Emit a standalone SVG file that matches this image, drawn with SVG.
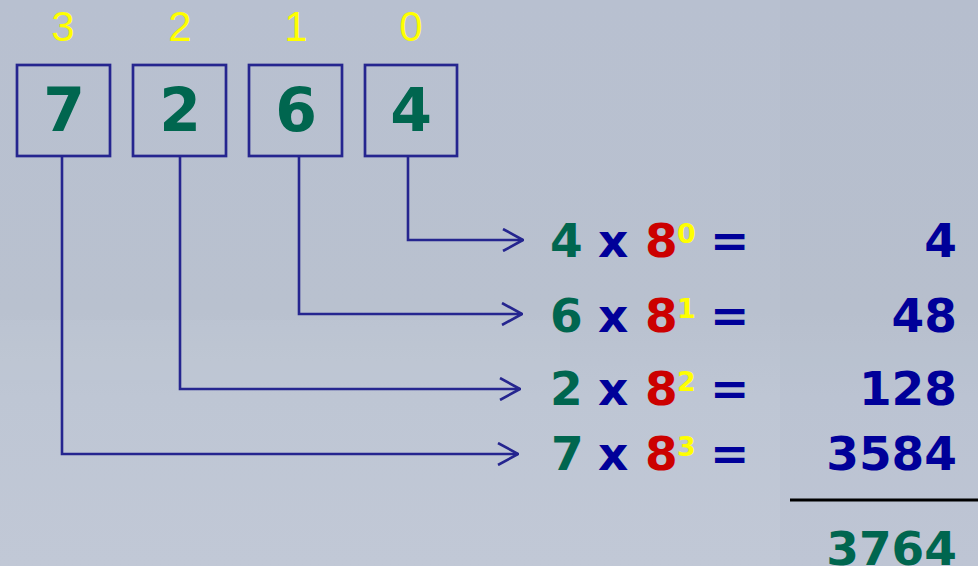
<svg xmlns="http://www.w3.org/2000/svg" width="978" height="566" viewBox="0 0 978 566">
  <defs>
    <linearGradient id="bg" x1="0" y1="0" x2="0" y2="1">
      <stop offset="0" stop-color="#b8c0d0"/>
      <stop offset="0.55" stop-color="#b9c1cf"/>
      <stop offset="0.7" stop-color="#bec6d4"/>
      <stop offset="1" stop-color="#c1c8d6"/>
    </linearGradient>
    <marker id="arrow" viewBox="0 0 22 24" refX="21" refY="12" markerWidth="22" markerHeight="24" markerUnits="userSpaceOnUse" orient="auto">
      <path d="M1,1 L21,12 L1,23" fill="none" stroke="#25258f" stroke-width="2.6"/>
    </marker>
  </defs>
  <style>
    .box { fill: none; stroke: #25258f; stroke-width: 2.7; }
    .digit { font-family: "DejaVu Sans", Verdana, sans-serif; font-weight: bold; font-size: 60px; fill: #00664f; text-anchor: middle; }
    .idx { font-family: "Liberation Sans", Arial, sans-serif; font-size: 42px; fill: #ffff00; text-anchor: middle; }
    .conn { fill: none; stroke: #25258f; stroke-width: 2.6; marker-end: url(#arrow); }
    .eq { font-family: "DejaVu Sans", Verdana, sans-serif; font-weight: bold; font-size: 47px; }
    .val { font-family: "DejaVu Sans", Verdana, sans-serif; font-weight: bold; font-size: 47px; fill: #000099; text-anchor: end; }
    .g { fill: #00664f; }
    .b { fill: #000099; }
    .r { fill: #cc0000; }
    .y { fill: #ffff00; font-size: 27px; }
    .sum { fill: #00664f; }
  </style>

  <rect x="0" y="0" width="978" height="566" fill="url(#bg)"/>
  <!-- faint background texture -->
  <rect x="780" y="0" width="198" height="566" fill="#aab2c0" opacity="0.1"/>
  <rect x="0" y="320" width="560" height="60" fill="#c4cbd8" opacity="0.25"/>

  <!-- digit positions -->
  <g id="positions">
    <text class="idx" x="63" y="41">3</text>
    <text class="idx" x="180" y="41">2</text>
    <text class="idx" x="296" y="41">1</text>
    <text class="idx" x="411" y="41">0</text>
  </g>

  <!-- octal digit boxes -->
  <g id="digit-7">
    <rect class="box" x="17" y="65" width="93" height="91"/>
    <text class="digit" x="64" y="131">7</text>
  </g>
  <g id="digit-2">
    <rect class="box" x="133" y="65" width="93" height="91"/>
    <text class="digit" x="180" y="131">2</text>
  </g>
  <g id="digit-6">
    <rect class="box" x="249" y="65" width="93" height="91"/>
    <text class="digit" x="296" y="131">6</text>
  </g>
  <g id="digit-4">
    <rect class="box" x="365" y="65" width="92" height="91"/>
    <text class="digit" x="411" y="131">4</text>
  </g>

  <!-- connectors -->
  <g id="connectors">
    <path class="conn" d="M408,156 V240 H523"/>
    <path class="conn" d="M299,156 V314 H522"/>
    <path class="conn" d="M180,156 V389 H520"/>
    <path class="conn" d="M62,156 V454 H518"/>
  </g>

  <!-- terms -->
  <g id="term-0">
    <text class="eq"><tspan class="g" x="550" y="257">4</tspan><tspan class="b" x="598" y="257">x</tspan><tspan class="r" x="645" y="257">8</tspan><tspan class="y" x="677" y="243">0</tspan><tspan class="b" x="710" y="257">=</tspan></text>
    <text class="val" x="957" y="257">4</text>
  </g>
  <g id="term-1">
    <text class="eq"><tspan class="g" x="550" y="332">6</tspan><tspan class="b" x="598" y="332">x</tspan><tspan class="r" x="645" y="332">8</tspan><tspan class="y" x="677" y="318">1</tspan><tspan class="b" x="710" y="332">=</tspan></text>
    <text class="val" x="957" y="332">48</text>
  </g>
  <g id="term-2">
    <text class="eq"><tspan class="g" x="550" y="405">2</tspan><tspan class="b" x="598" y="405">x</tspan><tspan class="r" x="645" y="405">8</tspan><tspan class="y" x="677" y="391">2</tspan><tspan class="b" x="710" y="405">=</tspan></text>
    <text class="val" x="957" y="405">128</text>
  </g>
  <g id="term-3">
    <text class="eq"><tspan class="g" x="551" y="470">7</tspan><tspan class="b" x="598" y="470">x</tspan><tspan class="r" x="645" y="470">8</tspan><tspan class="y" x="677" y="456">3</tspan><tspan class="b" x="710" y="470">=</tspan></text>
    <text class="val" x="957" y="470">3584</text>
  </g>

  <!-- sum -->
  <g id="total">
    <line x1="790" y1="500" x2="978" y2="500" stroke="#000000" stroke-width="3"/>
    <text class="val sum" x="957" y="565">3764</text>
  </g>
</svg>
